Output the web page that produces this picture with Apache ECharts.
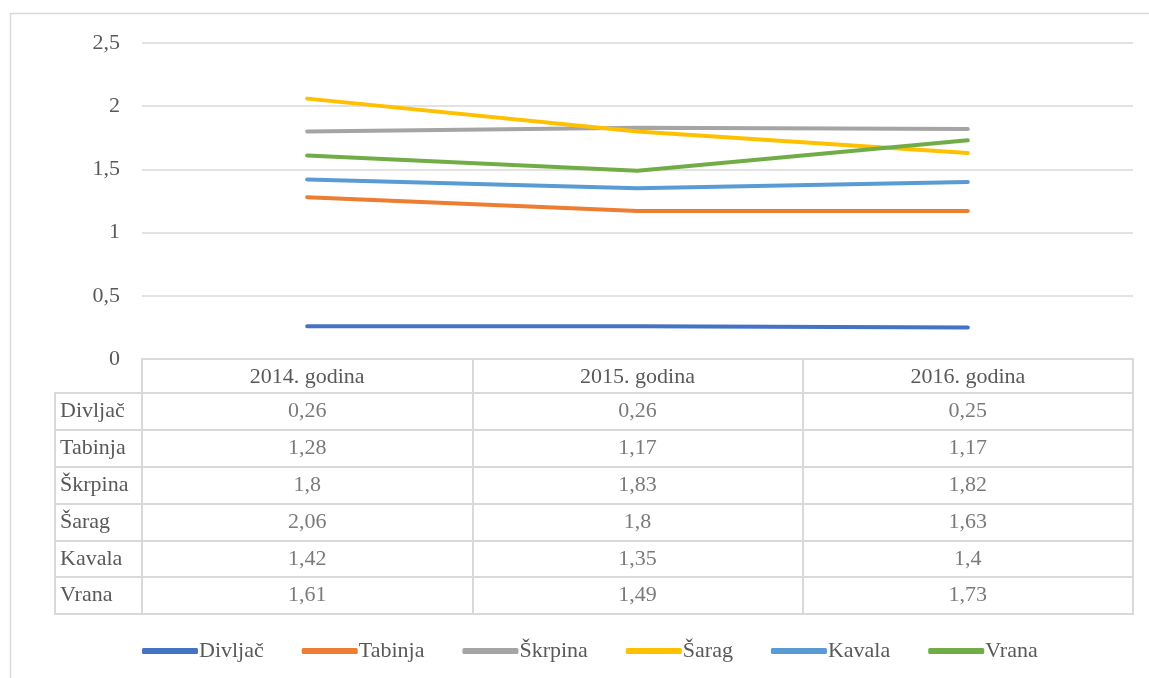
<!DOCTYPE html>
<html>
<head>
<meta charset="utf-8">
<script src="https://cdn.jsdelivr.net/npm/echarts@6/dist/echarts.min.js"></script>
<style>
html,body{margin:0;padding:0;background:#fff;}
#chart{width:1149px;height:678px;}
</style>
</head>
<body>
<div id="chart"></div>
<script>
const categories = ['2014. godina', '2015. godina', '2016. godina'];
const seriesNames = ['Divljač', 'Tabinja', 'Škrpina', 'Šarag', 'Kavala', 'Vrana'];
const divljac = [0.26, 0.26, 0.25];
const tabinja = [1.28, 1.17, 1.17];
const skrpina = [1.8, 1.83, 1.82];
const sarag = [2.06, 1.8, 1.63];
const kavala = [1.42, 1.35, 1.4];
const vrana = [1.61, 1.49, 1.73];
const yMin = 0, yMax = 2.5, yInterval = 0.5;

const values = [divljac, tabinja, skrpina, sarag, kavala, vrana];
const colors = ['#4472C4', '#ED7D31', '#A5A5A5', '#FFC000', '#5B9BD5', '#70AD47'];
const FONT = "'Liberation Serif', 'Times New Roman', serif";
const FS = 22;
const TXT = '#595959';
const LINE = '#d9d9d9';
const fmt = v => String(v).replace('.', ',');

const tableData = [];
values.forEach((arr, s) => arr.forEach((v, c) => tableData.push([c, s, v])));

const chart = echarts.init(document.getElementById('chart'), null, {renderer: 'canvas'});
const option = {
  animation: false,
  textStyle: {fontFamily: FONT},
  graphic: [{
    type: 'rect', silent: true, z: -1,
    shape: {x: 10.5, y: 13.5, width: 1200, height: 700},
    style: {fill: 'none', stroke: LINE, lineWidth: 1.5}
  }],
  grid: [
    {left: 142, right: 16, top: 43, height: 316, containLabel: false},
    {left: 142, right: 16, top: 393, bottom: 64, show: true, borderColor: LINE, borderWidth: 2, backgroundColor: 'transparent'},
    {left: 55, width: 87, top: 393, bottom: 64, show: true, borderColor: LINE, borderWidth: 2, backgroundColor: 'transparent'}
  ],
  xAxis: [
    {
      gridIndex: 0, type: 'category', data: categories, boundaryGap: true,
      axisLine: {show: true, lineStyle: {color: LINE, width: 2}},
      axisTick: {show: true, length: 34, interval: 0, lineStyle: {color: LINE, width: 2}},
      axisLabel: {interval: 0, margin: 7, color: TXT, fontSize: FS, fontFamily: FONT},
      splitLine: {show: false}
    },
    {
      gridIndex: 1, type: 'category', data: categories, boundaryGap: true,
      axisLine: {show: false}, axisTick: {show: false}, axisLabel: {show: false},
      splitLine: {show: true, interval: 0, lineStyle: {color: LINE, width: 2}}
    },
    {gridIndex: 2, type: 'value', show: false}
  ],
  yAxis: [
    {
      gridIndex: 0, type: 'value', min: yMin, max: yMax, interval: yInterval,
      axisLine: {show: false}, axisTick: {show: false},
      axisLabel: {margin: 22, color: TXT, fontSize: FS, fontFamily: FONT, formatter: v => fmt(v)},
      splitLine: {show: true, lineStyle: {color: LINE, width: 1.5}}
    },
    {
      gridIndex: 1, type: 'category', data: seriesNames, inverse: true, boundaryGap: true,
      axisLine: {show: false}, axisTick: {show: false}, axisLabel: {show: false},
      splitLine: {show: true, interval: 0, lineStyle: {color: LINE, width: 2}}
    },
    {
      gridIndex: 2, type: 'category', data: seriesNames, inverse: true, boundaryGap: true,
      axisLine: {show: false}, axisTick: {show: false},
      axisLabel: {inside: true, margin: 5, interval: 0, color: TXT, fontSize: FS, fontFamily: FONT},
      splitLine: {show: true, interval: 0, lineStyle: {color: LINE, width: 2}}
    }
  ],
  legend: {
    data: seriesNames,
    left: 137, top: 635,
    itemWidth: 56, itemHeight: 6, itemGap: 38,
    icon: 'roundRect',
    textStyle: {color: TXT, fontSize: FS, fontFamily: FONT, padding: [0, 0, 0, -4]}
  },
  series: seriesNames.map((n, i) => ({
    type: 'line', name: n, data: values[i], xAxisIndex: 0, yAxisIndex: 0,
    symbol: 'none', lineStyle: {width: 4, color: colors[i], cap: 'round'},
    itemStyle: {color: colors[i]}
  })).concat([{
    type: 'scatter', name: 'table', xAxisIndex: 1, yAxisIndex: 1,
    data: tableData, symbolSize: 1, silent: true,
    itemStyle: {color: 'rgba(0,0,0,0)'},
    label: {show: true, position: 'inside', color: TXT, fontSize: FS, fontFamily: FONT,
      formatter: p => fmt(p.value[2])}
  }])
};
chart.setOption(option);
</script>
</body>
</html>
